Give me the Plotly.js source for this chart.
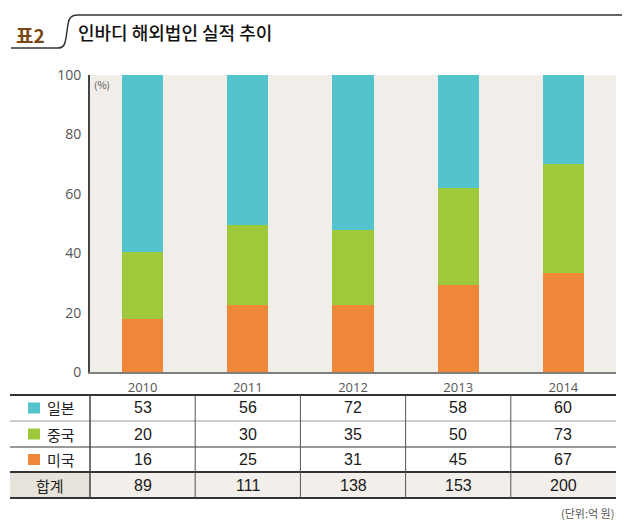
<!DOCTYPE html>
<html>
<head>
<meta charset="utf-8">
<script src="https://cdn.plot.ly/plotly-3.0.1.min.js"></script>
<style>html,body{margin:0;padding:0;background:#fff;}#chart{width:640px;height:530px;}</style>
</head>
<body>
<div id="chart"></div>
<script>
// ---- data ----
const years = ['2010', '2011', '2012', '2013', '2014'];
const japan = [53, 56, 72, 58, 60];   // 일본
const china = [20, 30, 35, 50, 73];   // 중국
const usa = [16, 25, 31, 45, 67];     // 미국
const totals = [89, 111, 138, 153, 200]; // 합계
const seriesNames = ['일본', '중국', '미국'];
const yTicks = [0, 20, 40, 60, 80, 100];

// ---- styles ----
const C_JP = '#53c3cc', C_CN = '#9fc83b', C_US = '#ef8738';
const KR = '"Noto Sans CJK KR", "Noto Sans", sans-serif';
const NUM = '"Liberation Sans Narrow", "Liberation Sans", Arial, sans-serif';
const L = 90, R = 616, T = 75, B = 372;
const px = X => (X - L) / (R - L);
const py = Y => (B - Y) / (B - T);

const traces = [
  {type: 'bar', name: '미국', x: years, y: usa, marker: {color: C_US}, width: 0.39},
  {type: 'bar', name: '중국', x: years, y: china, marker: {color: C_CN}, width: 0.39},
  {type: 'bar', name: '일본', x: years, y: japan, marker: {color: C_JP}, width: 0.39}
];

const shapes = [];
const annotations = [];

// title decorative line
let path = 'M ' + px(11) + ',' + py(48) + ' L ' + px(58) + ',' + py(48) +
  ' C ' + px(64) + ',' + py(48) + ' ' + px(65) + ',' + py(44) + ' ' + px(66) + ',' + py(38) +
  ' L ' + px(68) + ',' + py(24) +
  ' C ' + px(69) + ',' + py(18) + ' ' + px(71) + ',' + py(15) + ' ' + px(78) + ',' + py(15) +
  ' L ' + px(622) + ',' + py(15);
shapes.push({type: 'path', xref: 'paper', yref: 'paper', path: path, line: {color: '#333', width: 1.5}});

annotations.push({xref: 'paper', yref: 'paper', x: px(14), y: py(34), xanchor: 'left', yanchor: 'middle',
  text: '<b>표2</b>', showarrow: false, font: {family: KR, size: 19, color: '#7a4714'}});
annotations.push({xref: 'paper', yref: 'paper', x: px(92), y: py(85), xanchor: 'left', yanchor: 'middle',
  text: '(%)', showarrow: false, font: {family: KR, size: 10, color: '#555'}});

// table geometry
const rowLines = [395, 421, 447, 472, 498];
const tblLeft = 10, tblRight = 616;
shapes.push({type: 'rect', xref: 'paper', yref: 'paper', x0: px(tblLeft), x1: px(L), y0: py(498), y1: py(472),
  fillcolor: '#e8e3da', line: {width: 0}, layer: 'below'});
shapes.push({type: 'rect', xref: 'paper', yref: 'paper', x0: px(L), x1: px(tblRight), y0: py(498), y1: py(472),
  fillcolor: '#f2efea', line: {width: 0}, layer: 'below'});
const lineStyles = [
  {color: '#333', width: 2}, {color: '#999', width: 1}, {color: '#999', width: 2},
  {color: '#333', width: 2}, {color: '#333', width: 2}
];
rowLines.forEach((Y, i) => {
  shapes.push({type: 'line', xref: 'paper', yref: 'paper', x0: px(tblLeft), x1: px(tblRight), y0: py(Y), y1: py(Y),
    line: lineStyles[i]});
});
shapes.push({type: 'line', xref: 'paper', yref: 'paper', x0: 0, x1: 0, y0: py(395), y1: py(498),
  line: {color: '#444', width: 1.5}});
for (let i = 1; i < years.length; i++) {
  const xp = i / years.length;
  shapes.push({type: 'line', xref: 'paper', yref: 'paper', x0: xp, x1: xp, y0: py(395), y1: py(498),
    line: {color: '#555', width: 1}});
}

const rowCenters = [408, 434, 459.5, 485];
const rowData = [japan, china, usa, totals];
const squareColors = [C_JP, C_CN, C_US];
seriesNames.forEach((nm, r) => {
  const yc = rowCenters[r];
  shapes.push({type: 'rect', xref: 'paper', yref: 'paper', x0: px(28), x1: px(40), y0: py(yc - 5.5), y1: py(yc + 5.5),
    fillcolor: squareColors[r], line: {width: 0}});
  annotations.push({xref: 'paper', yref: 'paper', x: px(45), y: py(yc), xanchor: 'left', yanchor: 'middle',
    text: nm, showarrow: false, font: {family: KR, size: 15, color: '#222'}});
});
annotations.push({xref: 'paper', yref: 'paper', x: px(50), y: py(485), xanchor: 'center', yanchor: 'middle',
  text: '합계', showarrow: false, font: {family: KR, size: 15, color: '#222'}});
rowData.forEach((arr, r) => {
  arr.forEach((v, i) => {
    annotations.push({xref: 'paper', yref: 'paper', x: (i + 0.5) / years.length, y: py(rowCenters[r]),
      xanchor: 'center', yanchor: 'middle',
      text: String(v), showarrow: false, font: {family: NUM, size: 16, color: '#1a1a1a'}});
  });
});
annotations.push({xref: 'paper', yref: 'paper', x: px(616), y: py(513), xanchor: 'right', yanchor: 'middle',
  text: '(단위:억 원)', showarrow: false, font: {family: KR, size: 11, color: '#555'}});

const layout = {
  width: 640, height: 530,
  margin: {l: L, r: 640 - R, t: T, b: 530 - B},
  paper_bgcolor: '#ffffff',
  plot_bgcolor: '#f1eee9',
  barmode: 'stack',
  barnorm: 'percent',
  showlegend: false,
  title: {text: '인바디 해외법인 실적 추이', xref: 'container', yref: 'container', x: 78 / 640, xanchor: 'left',
    y: 1 - 34 / 530, yanchor: 'middle', font: {family: KR, size: 18, color: '#111', weight: 500}},
  xaxis: {type: 'category', categoryorder: 'array', categoryarray: years, range: [-0.5, years.length - 0.5],
    showgrid: false, zeroline: false, showline: true, linecolor: '#7f7f7f', linewidth: 2,
    ticks: '', tickfont: {family: '"Open Sans", "Noto Sans", sans-serif', size: 13, color: '#555'}, ticklabelstandoff: 2},
  yaxis: {range: [0, 100], tickvals: yTicks, showgrid: false, zeroline: false, showline: true, linecolor: '#444',
    linewidth: 2, ticks: '', tickfont: {family: '"Open Sans", "Noto Sans", sans-serif', size: 14, color: '#555'},
    ticklabelstandoff: 4},
  shapes: shapes,
  annotations: annotations
};

Plotly.newPlot('chart', traces, layout, {displayModeBar: false, staticPlot: true});
</script>
</body>
</html>
